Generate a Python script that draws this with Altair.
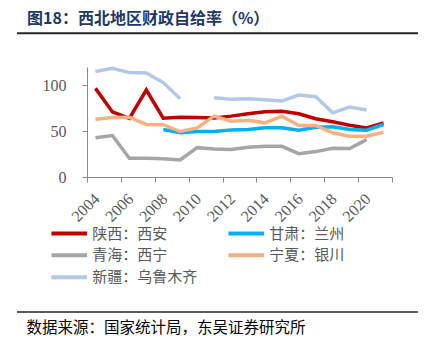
import altair as alt
import pandas as pd

# ---------------- data ----------------
years = list(range(2004, 2022))
# legend is laid out column-major: col 1 = 陕西, 青海, 新疆 ; col 2 = 甘肃, 宁夏
series_names = ["陕西：西安", "青海：西宁", "新疆：乌鲁木齐", "甘肃：兰州", "宁夏：银川"]
colors = ["#C00000", "#A6A6A6", "#B4C7E7", "#00B0F0", "#F4B183"]

shaanxi = [96.7, 71.0, 64.0, 94.9, 64.2, 65.3, 65.0, 64.5, 66.4, 69.0, 71.2, 71.6, 69.0, 63.5, 60.2, 56.5, 53.6, 59.0]
qinghai = [42.7, 45.2, 20.4, 20.4, 20.0, 18.6, 32.0, 30.6, 29.9, 32.4, 33.5, 33.5, 25.5, 27.7, 31.3, 31.0, 40.8, None]
xinjiang = [115.0, 118.6, 113.9, 113.5, 103.0, 85.4, None, 86.5, 84.7, 85.4, 84.3, 82.8, 89.4, 87.6, 70.0, 76.3, 73.0, None]
gansu = [None, None, None, None, 51.8, 48.2, 49.6, 49.6, 51.4, 51.8, 53.6, 53.6, 51.0, 54.3, 54.7, 51.8, 51.0, 57.3]
ningxia = [63.1, 65.0, 65.3, 57.3, 57.0, 49.6, 53.6, 66.4, 60.9, 62.0, 59.1, 66.4, 56.2, 56.2, 48.2, 44.5, 44.5, 48.9]

y_ticks = [0, 50, 100]
x_tick_bounds = [2003.5 + 2 * k for k in range(10)]

title_text = "图18：西北地区财政自给率（%）"
source_text = "数据来源：国家统计局，东吴证券研究所"

all_series = [shaanxi, qinghai, xinjiang, gansu, ningxia]
rows = []
for name, vals in zip(series_names, all_series):
    for yr, v in zip(years, vals):
        rows.append({"series": name, "year": yr, "value": v})
df = pd.DataFrame(rows)

# ---------------- chart ----------------
grey_axis = "#898989"
lab_col = "#595959"

lines = alt.Chart(df).mark_line(
    strokeWidth=3.5, invalid="break-paths-show-domains"
).encode(
    x=alt.X(
        "year:Q",
        scale=alt.Scale(domain=[2003.5, 2021.5], nice=False, zero=False),
        axis=alt.Axis(
            values=x_tick_bounds,
            labelExpr="datum.value < 2021 ? format(datum.value + 0.5, 'd') : ''",
            labelOffset=9.5,
            labelAngle=315,
            labelAlign="right",
            labelBaseline="middle",
            labelPadding=14,
            tickSize=5,
            labelFont="Liberation Serif",
            labelFontSize=16,
            labelColor=lab_col,
            domainColor=grey_axis,
            tickColor=grey_axis,
            grid=False,
            title=None,
            labelOverlap=False,
            labelBound=False,
            labelFlush=False,
        ),
    ),
    y=alt.Y(
        "value:Q",
        scale=alt.Scale(domain=[0, 120], nice=False),
        axis=alt.Axis(
            values=y_ticks,
            tickSize=5,
            labelPadding=16,
            labelFont="Liberation Serif",
            labelFontSize=16,
            labelColor=lab_col,
            domainColor=grey_axis,
            tickColor=grey_axis,
            grid=False,
            title=None,
        ),
    ),
    color=alt.Color(
        "series:N",
        scale=alt.Scale(domain=series_names, range=colors),
        legend=alt.Legend(
            title=None,
            orient="none",
            legendX=-37.7,
            legendY=158.8,
            columns=2,
            columnPadding=28,
            rowPadding=6,
            clipHeight=15,
            symbolType="stroke",
            symbolSize=1275,
            symbolStrokeWidth=4,
            labelFont="Noto Sans CJK SC",
            labelFontSize=15,
            labelColor=lab_col,
            labelOffset=3,
            padding=0,
        ),
    ),
)

title_df = pd.DataFrame({"t": [title_text]})
source_df = pd.DataFrame({"t": [source_text]})

title = alt.Chart(title_df).mark_text(
    align="left", baseline="middle", font="Noto Sans CJK SC",
    fontSize=16, fontWeight="bold", color="#1F3864"
).encode(x=alt.value(-60), y=alt.value(-47.7), text="t:N")

rule_top = alt.Chart(title_df).mark_rule(color="#262626", strokeWidth=2).encode(
    x=alt.value(-70), x2=alt.value(331), y=alt.value(-33.7)
)
rule_bottom = alt.Chart(source_df).mark_rule(color="#262626", strokeWidth=1.7).encode(
    x=alt.value(-70), x2=alt.value(331), y=alt.value(245)
)

source = alt.Chart(source_df).mark_text(
    align="left", baseline="middle", font="Noto Sans CJK SC",
    fontSize=15.5, color="#000000"
).encode(x=alt.value(-60.5), y=alt.value(261), text="t:N")

chart = alt.layer(lines, title, rule_top, rule_bottom, source).properties(
    width=305,
    height=110,
    padding={"left": 87, "top": 67, "right": 39, "bottom": 178},
    autosize=alt.AutoSizeParams(type="none"),
    background="white",
).configure_view(strokeOpacity=0)

chart.save("out.html", embed_options={"renderer": "svg", "actions": False})
